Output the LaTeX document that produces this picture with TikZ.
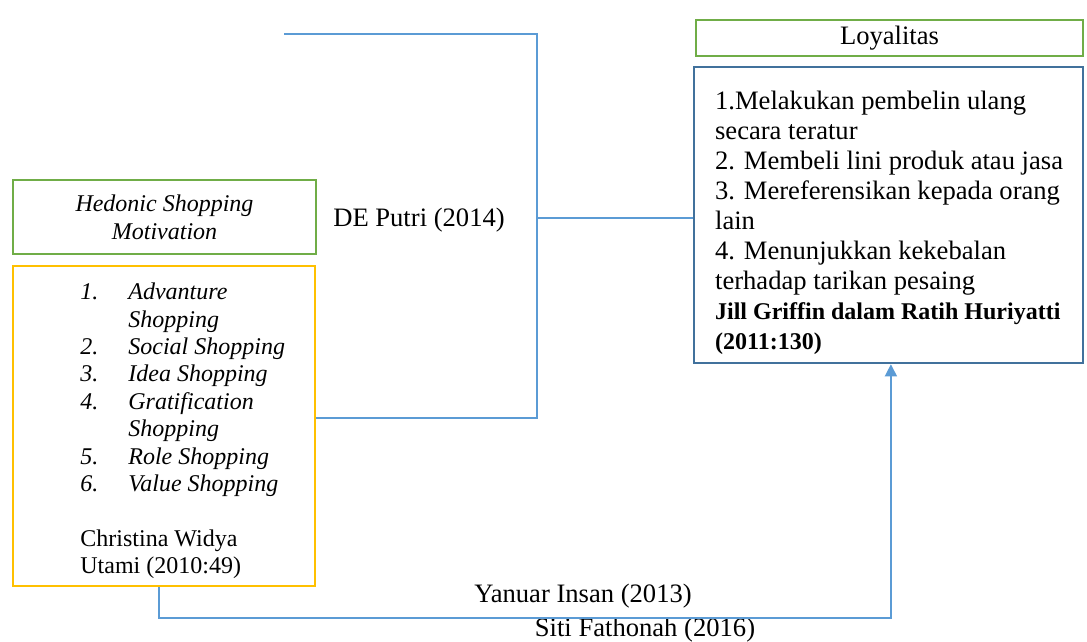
\documentclass[tikz,border=0pt]{standalone}
\usepackage{fontspec}
\setmainfont{Liberation Serif}
\usetikzlibrary{positioning,arrows.meta}
\definecolor{boxgreen}{HTML}{70AD47}
\definecolor{boxgold}{HTML}{FFC000}
\definecolor{boxblue}{HTML}{41719C}
\definecolor{linkblue}{HTML}{5B9BD5}
\newcommand{\itm}[2]{\makebox[24pt][l]{\textit{#1}}\textit{#2}}
\newcommand{\srcref}[1]{{\fontsize{12}{15}\selectfont\bfseries #1}}

\begin{document}
\begin{tikzpicture}[x=0.5pt, y=-0.5pt,
  hdr/.style={draw=boxgreen, line width=1.2pt, inner sep=0pt, align=center},
  frame/.style={draw, inner sep=0pt},
  txt/.style={anchor=west, inner sep=0pt, align=left},
  link/.style={draw=linkblue, line width=0.75pt},
  lbl/.style={font=\fontsize{13.3}{15}\selectfont, inner sep=0pt},
  >={Triangle[length=6pt, width=6pt]}]
  \useasboundingbox (0,0) rectangle (1087,642);
  % left column: hedonic shopping motivation
  \node[hdr, minimum width=151.5pt, minimum height=37pt, font=\fontsize{12}{14}\selectfont] (hsm) at (164.5,217)
    {\textit{Hedonic Shopping}\\\textit{Motivation}};
  \node[frame, draw=boxgold, line width=1pt, minimum width=151pt, minimum height=160pt] (items) at (164,426) {};
  \node[txt, font=\fontsize{12}{13.7}\selectfont] (itemstxt) at ([xshift=34pt, yshift=-2.5pt]items.west)
    {\itm{1.}{Advanture}\\\itm{}{Shopping}\\\itm{2.}{Social Shopping}\\\itm{3.}{Idea Shopping}\\
     \itm{4.}{Gratification}\\\itm{}{Shopping}\\\itm{5.}{Role Shopping}\\\itm{6.}{Value Shopping}\\[13.7pt]
     Christina Widya\\Utami (2010:49)};
  % right column: loyalitas
  \node[hdr, minimum width=193.5pt, minimum height=18pt, font=\fontsize{13.3}{15}\selectfont] (lyl) at (889.5,38) {Loyalitas};
  \node[frame, draw=boxblue, line width=1.3pt, minimum width=194.5pt, minimum height=148pt] (loyal) at (888.5,215) {};
  \node[txt, font=\fontsize{13.3}{15}\selectfont] (loyaltxt) at ([xshift=11pt, yshift=-4pt]loyal.west)
    {1.Melakukan pembelin ulang\\secara teratur\\2. Membeli lini produk atau jasa\\
     3. Mereferensikan kepada orang\\lain\\4. Menunjukkan kekebalan\\terhadap tarikan pesaing\\
     \srcref{Jill Griffin dalam Ratih Huriyatti}\\\srcref{(2011:130)}};
  % sources
  \node[lbl] (putri) at (419,220) {DE Putri (2014)};
  \node[lbl] (insan) at (583,596) {Yanuar Insan (2013)};
  \node[lbl] (fathonah) at (645,630) {Siti Fathonah (2016)};
  % connectors
  \coordinate (top) at (284,34);
  \coordinate (split) at (537,218);
  \draw[link] (top) -| (split) |- ([yshift=4pt]items.east);
  \draw[link] (split) -- (split -| loyal.west);
  \draw[link, ->] ([xshift=-2.5pt]items.south) -- ++(0,31) -| ([xshift=1.2pt]loyal.south);
\end{tikzpicture}
\end{document}
